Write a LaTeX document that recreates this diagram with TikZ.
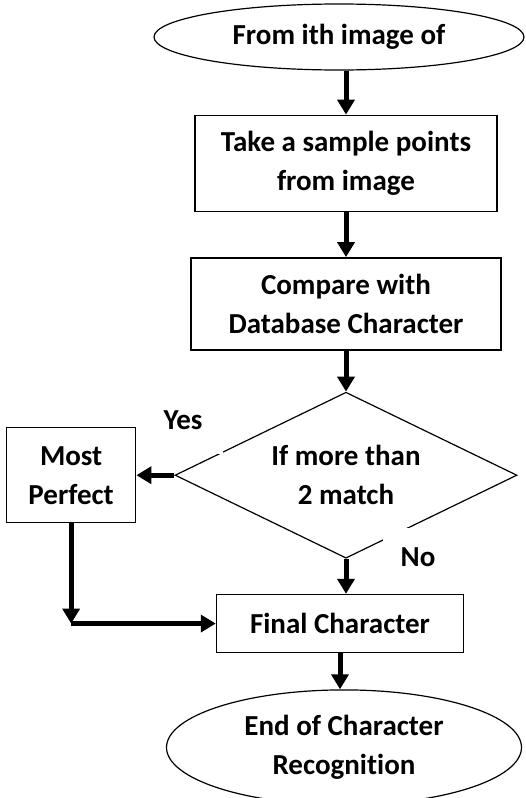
\documentclass[tikz,border=0pt]{standalone}
\usepackage{fontspec}
\setmainfont{Carlito}[Ligatures=NoCommon]
\usetikzlibrary{arrows.meta,positioning,shapes.geometric}

\begin{document}
\begin{tikzpicture}[x=1pt,y=-1pt,>={Triangle[length=15pt,width=17pt]},
                    font=\fontsize{29}{39}\selectfont\bfseries,
                    box/.style={rectangle,draw,line width=1.5pt,align=center,inner sep=0pt},
                    term/.style={ellipse,draw,line width=1.2pt,align=center,inner sep=0pt},
                    test/.style={diamond,aspect=2,draw,line width=1.2pt,align=center,inner sep=0pt},
                    flow/.style={->,line width=5pt},
                    tag/.style={fill=white,inner sep=0pt}]
\useasboundingbox (0,0) rectangle (525,798);

\node[term,minimum width=370pt,minimum height=66pt] (start) at (339,37) {From ith image of};
\node[box,minimum width=302pt,minimum height=96pt] (sample) [below=44pt of start,xshift=7pt] {Take a sample points\\from image};
\node[box,minimum width=310pt,minimum height=92pt] (compare) [below=45pt of sample] {Compare with\\Database Character};
\node[test,minimum width=342pt,minimum height=166pt] (match) [below=41pt of compare] {If more than\\2 match};
\node[box,minimum width=129pt,minimum height=95pt] (perfect) [left=38pt of match] {Most\\Perfect};
\node[box,minimum width=247pt,minimum height=58pt] (final) [below=35pt of match,xshift=-6pt] {Final Character};
\node[term,minimum width=355pt,minimum height=115pt] (end) [below=36pt of final,xshift=4pt] {End of Character\\Recognition};

% answer labels
\node[tag,minimum width=80pt,minimum height=68pt] (yes) at (183,420) {Yes};
\node[tag,minimum width=70pt,minimum height=58pt] (no) at (418,557) {No};

\coordinate (join) at (perfect.south |- final.west);

\path[flow]
  (start.south -| sample) edge (sample)
  (sample) edge (compare)
  (compare) edge (match)
  (match.west) edge (perfect)
  (match.south) edge (match.south |- final.north)
  (perfect) edge (join)
  (join) edge (final)
  (final.south) edge (final.south |- end.north);

\end{tikzpicture}
\end{document}
